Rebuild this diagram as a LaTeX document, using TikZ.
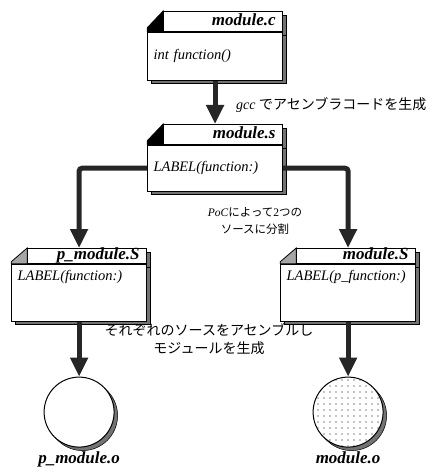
\documentclass[tikz,border=0pt]{standalone}
\usepackage{fontspec}
\setmainfont{Liberation Serif}
\newfontfamily\jp{Noto Sans CJK JP}
\usepackage{tikz}
\usetikzlibrary{positioning,calc,shadows,arrows.meta,patterns.meta}
\tikzset{dropsh/.style={drop shadow={shadow xshift=3.5pt,shadow yshift=-3.5pt,opacity=1,fill=black!55,draw=black,line width=.5pt}},
         hdr/.style={draw,fill=white,line width=.8pt,inner xsep=7pt,inner ysep=0pt,text width=105pt,align=right,
                     minimum height=20pt,text height=11.5pt,text depth=3.5pt,font=\fontsize{17}{20}\selectfont\bfseries\itshape,dropsh},
         srchdr/.style={hdr,minimum height=15pt},
         body/.style={draw,fill=white,line width=.8pt,inner xsep=6pt,inner ysep=0pt,text width=123pt,align=left,
                      minimum height=48pt,font=\fontsize{14.5}{17}\selectfont\itshape,dropsh},
         srcbody/.style={body,minimum height=57pt,text depth=34pt},
         corner/.style={line width=.8pt},
         obj/.style={circle,draw,line width=1pt,fill=white,minimum size=70pt,inner sep=0pt,dropsh},
         objlbl/.style={inner sep=0pt,font=\fontsize{17}{20}\selectfont\bfseries\itshape},
         note/.style={inner sep=0pt,align=center,font=\fontsize{14}{18}\selectfont},
         flow/.style={line width=5pt,draw=black!85,-{Triangle[width=17pt,length=19pt]}}
}

\begin{document}
\begin{tikzpicture}[x=1pt,y=-1pt]
  \useasboundingbox (0,0) rectangle (438,476);
  \node[hdr,anchor=north east] (chdr) at (283,11) {module.c};
  \node[body,anchor=north east] (cbody) at (chdr.south east) {int function()};
  \filldraw[corner,fill=black] (cbody.north west) -- ++(0,4pt) -- (chdr.north west) -- (chdr.south west) -- cycle;
  \node[hdr,anchor=north east] (shdr) at (283,124) {module.s};
  \node[body,anchor=north east,minimum height=46pt] (sbody) at (shdr.south east) {LABEL(function:)};
  \filldraw[corner,fill=black] (sbody.north west) -- ++(0,4pt) -- (shdr.north west) -- (shdr.south west) -- cycle;
  \node[srchdr,anchor=north east] (pshdr) at (147,248) {p\_module.S};
  \node[srcbody,anchor=north east] (psbody) at (pshdr.south east) {LABEL(function:)};
  \filldraw[corner,fill=black!35] (psbody.north west) -- ++(0,2pt) -- (pshdr.north west) -- (pshdr.south west) -- cycle;
  \node[srchdr,anchor=north east] (mshdr) at (416,248) {module.S};
  \node[srcbody,anchor=north east] (msbody) at (mshdr.south east) {LABEL(p\_function:)};
  \filldraw[corner,fill=black!35] (msbody.north west) -- ++(0,2pt) -- (mshdr.north west) -- (mshdr.south west) -- cycle;
  \node[obj,below=55pt of psbody] (pobj) {};
  \node[obj,below=55pt of msbody,postaction={pattern={Dots[distance=6pt,radius=.6pt]}}] (mobj) {};
  \node[objlbl,below=4pt of pobj] (pobjlbl) {p\_module.o};
  \node[objlbl,below=4pt of mobj] (mobjlbl) {module.o};
  \draw[flow] (cbody.south) -- (cbody.south |- shdr.north);
  \draw[flow,rounded corners=3pt] (sbody.west) -| (pshdr.north -| psbody.north);
  \draw[flow,rounded corners=3pt] (sbody.east) -| (mshdr.north -| msbody.north);
  \draw[flow] (psbody.south) -- (pobj);
  \draw[flow] (msbody.south) -- (mobj);
  \node[note,anchor=west] (gcctxt) at (236,105) {\textit{gcc} {\jp でアセンブラコードを生成}};
  \node[note,font=\fontsize{11.5}{16.5}\selectfont] (poctxt) at (255,221) {\textit{PoC}{\jp によって}2{\jp つの}\\{\jp ソースに分割}};
  \node[note] (asmtxt) at (209,339) {{\jp それぞれのソースをアセンブルし}\\{\jp モジュールを生成}};
\end{tikzpicture}
\end{document}
